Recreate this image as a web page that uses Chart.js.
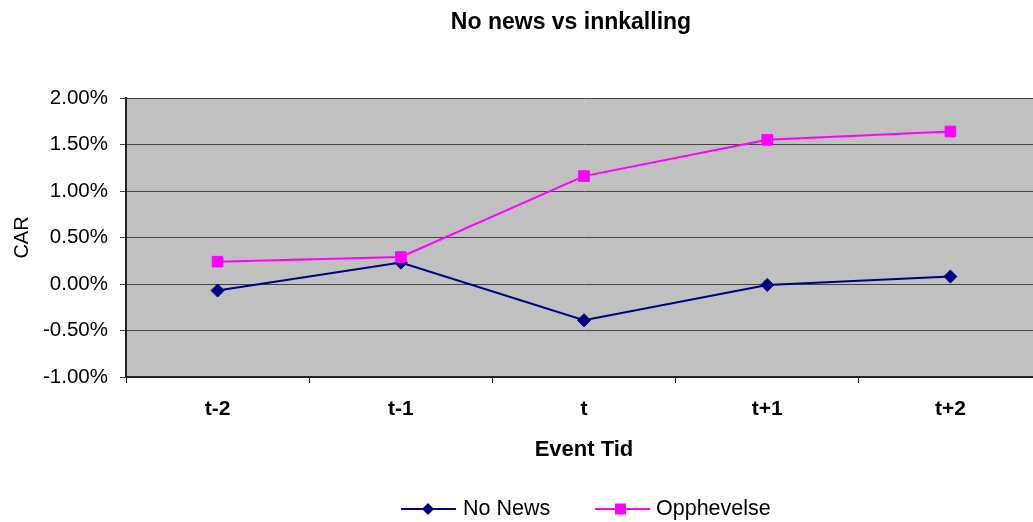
<!DOCTYPE html>
<html>
<head>
<meta charset="utf-8">
<script src="https://cdn.jsdelivr.net/npm/chart.js@4/dist/chart.umd.min.js"></script>
<style>
  html, body { margin: 0; padding: 0; background: #fff; overflow: hidden; }
  #wrap { position: relative; width: 1042px; height: 522px; }
  #c { display: block; width: 1042px; height: 522px; }
</style>
</head>
<body>
<div id="wrap"><canvas id="c" width="1042" height="522"></canvas></div>
<script>
// Event window and cumulative abnormal returns (in percent)
const categories = ['t-2', 't-1', 't', 't+1', 't+2'];
const noNews = [-0.07, 0.23, -0.39, -0.01, 0.08];
const opphevelse = [0.24, 0.29, 1.16, 1.55, 1.64];
const yTicks = [-1.0, -0.5, 0.0, 0.5, 1.0, 1.5, 2.0];

const FONT = "'Liberation Sans', Arial, sans-serif";
const NAVY = '#000080';
const PINK = '#FF00FF';

// Grey plot background, title, axis titles and legend
const decor = {
  id: 'decor',
  beforeDraw(chart) {
    const a = chart.chartArea, ctx = chart.ctx;
    ctx.save();
    ctx.fillStyle = '#C0C0C0';
    ctx.fillRect(a.left, a.top, a.right - a.left, a.bottom - a.top);
    ctx.restore();
  },
  afterDraw(chart) {
    const ctx = chart.ctx, a = chart.chartArea;
    ctx.save();
    ctx.fillStyle = '#000';
    ctx.textAlign = 'center';
    ctx.textBaseline = 'middle';

    ctx.font = 'bold 23px ' + FONT;
    ctx.fillText('No news vs innkalling', 571, 23);

    ctx.font = 'bold 22px ' + FONT;
    ctx.fillText('Event Tid', (a.left + a.right) / 2, 450);

    ctx.save();
    ctx.translate(22, (a.top + a.bottom) / 2);
    ctx.rotate(-Math.PI / 2);
    ctx.font = '20px ' + FONT;
    ctx.fillText('CAR', 0, 0);
    ctx.restore();

    // legend
    const ly = 509;
    ctx.lineWidth = 2;
    ctx.strokeStyle = NAVY;
    ctx.beginPath(); ctx.moveTo(401, ly); ctx.lineTo(456, ly); ctx.stroke();
    ctx.fillStyle = NAVY;
    ctx.beginPath();
    ctx.moveTo(428 - 6, ly); ctx.lineTo(428, ly - 6); ctx.lineTo(428 + 6, ly); ctx.lineTo(428, ly + 6);
    ctx.closePath(); ctx.fill();

    ctx.strokeStyle = PINK;
    ctx.beginPath(); ctx.moveTo(595, ly); ctx.lineTo(650, ly); ctx.stroke();
    ctx.fillStyle = PINK;
    ctx.fillRect(615, ly - 5.5, 11, 11);

    ctx.fillStyle = '#000';
    ctx.textAlign = 'left';
    ctx.font = '21.5px ' + FONT;
    ctx.fillText('No News', 463, ly);
    ctx.fillText('Opphevelse', 656, ly);
    ctx.restore();
  }
};

new Chart(document.getElementById('c'), {
  type: 'line',
  data: {
    labels: categories,
    datasets: [
      {
        label: 'No News',
        data: noNews,
        borderColor: NAVY,
        backgroundColor: NAVY,
        borderWidth: 2,
        pointStyle: 'rectRot',
        pointRadius: 6.5,
        pointBorderWidth: 1,
        pointBorderColor: NAVY,
        pointBackgroundColor: NAVY,
        tension: 0,
        order: 1
      },
      {
        label: 'Opphevelse',
        data: opphevelse,
        borderColor: PINK,
        backgroundColor: PINK,
        borderWidth: 2,
        pointStyle: 'rect',
        pointRadius: 7.5,
        pointBorderWidth: 1,
        pointBorderColor: PINK,
        pointBackgroundColor: PINK,
        tension: 0,
        order: 0
      }
    ]
  },
  options: {
    responsive: false,
    maintainAspectRatio: false,
    animation: false,
    devicePixelRatio: 1,
    // the plot area runs on past the right edge of the window
    layout: { autoPadding: false, padding: { top: 98, left: 0, right: 0, bottom: 0 } },
    plugins: {
      legend: { display: false },
      title: { display: false },
      tooltip: { enabled: false }
    },
    scales: {
      x: {
        type: 'category',
        offset: true,
        afterFit(scale) {
          scale.height = 145;
          scale.paddingLeft = 0;
          scale.paddingRight = 0;
        },
        grid: {
          offset: true,
          drawOnChartArea: false,
          drawTicks: true,
          tickLength: 6,
          color: '#000'
        },
        border: { display: true, color: '#222', width: 2 },
        ticks: {
          color: '#000',
          padding: 14,
          maxRotation: 0,
          font: { family: FONT, size: 21, weight: 'bold' }
        }
      },
      y: {
        min: -1.0,
        max: 2.0,
        afterFit(scale) {
          scale.width = 126;
          scale.paddingTop = 0;
          scale.paddingBottom = 0;
        },
        afterBuildTicks(scale) { scale.ticks = yTicks.map(v => ({ value: v })); },
        grid: {
          color: '#444',
          lineWidth: 1,
          drawTicks: true,
          tickLength: 6
        },
        border: { display: true, color: '#222', width: 2 },
        ticks: {
          color: '#000',
          padding: 12,
          font: { family: FONT, size: 20.5 },
          callback: v => v.toFixed(2) + '%'
        }
      }
    }
  },
  plugins: [decor]
});
</script>
</body>
</html>
